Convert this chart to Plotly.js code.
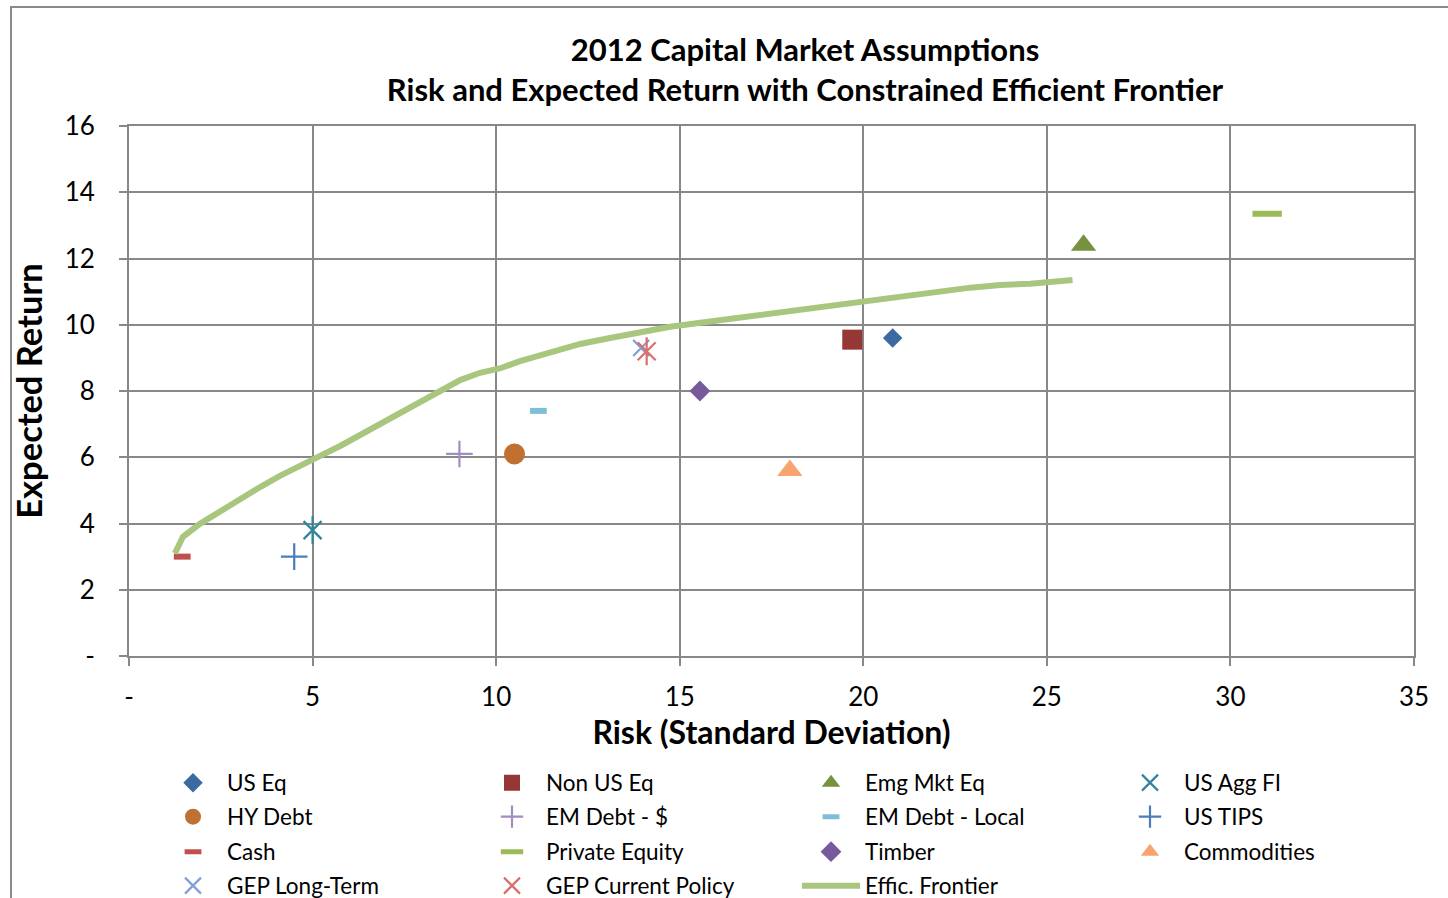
<!DOCTYPE html>
<html>
<head>
<meta charset="utf-8">
<script src="https://cdn.plot.ly/plotly-3.0.1.min.js"></script>
<style>
  html, body { margin: 0; padding: 0; background: #fff; overflow: hidden; }
  #chart { position: absolute; left: 0; top: 0; width: 1448px; height: 898px; }
  #frame { position: absolute; left: 10px; top: 6px; width: 1500px; height: 1000px;
           border-left: 2px solid #8a8a8a; border-top: 2px solid #8a8a8a; pointer-events: none; }
</style>
</head>
<body>
<div id="chart"></div>
<div id="frame"></div>
<script>
// ---- data ----
const assetNames = ['US Eq', 'Non US Eq', 'Emg Mkt Eq', 'US Agg FI',
                    'HY Debt', 'EM Debt - $', 'EM Debt - Local', 'US TIPS',
                    'Cash', 'Private Equity', 'Timber', 'Commodities',
                    'GEP Long-Term', 'GEP Current Policy'];
const assetRisk   = [20.8, 19.7, 26.0, 5.0, 10.5, 9.0, 11.15, 4.5, 1.45, 31.0, 15.55, 18.0, 13.95, 14.1];
const assetReturn = [9.6, 9.55, 12.4, 3.8, 6.1, 6.1, 7.4, 3.0, 3.0, 13.35, 8.0, 5.6, 9.3, 9.2];

const frontierName = 'Effic. Frontier';
const frontierRisk   = [1.25, 1.47, 1.93, 2.4, 3.02, 3.57, 4.11, 4.66, 5.0, 5.75, 6.57, 7.38, 8.2, 9.02,
                        9.56, 10.1, 10.65, 11.47, 12.29, 13.1, 13.92, 14.74, 15.56, 16.38, 17.19, 18.01,
                        18.83, 19.65, 20.46, 21.28, 22.1, 22.92, 23.73, 24.55, 25.7];
const frontierReturn = [3.1, 3.6, 3.99, 4.32, 4.74, 5.1, 5.44, 5.77, 5.93, 6.34, 6.83, 7.34, 7.8, 8.33,
                        8.55, 8.68, 8.9, 9.16, 9.42, 9.6, 9.79, 9.94, 10.06, 10.18, 10.3, 10.42,
                        10.54, 10.66, 10.79, 10.9, 11.03, 11.12, 11.2, 11.24, 11.35];

const xTickVals = [0, 5, 10, 15, 20, 25, 30, 35];
const xTickText = ['-', '5', '10', '15', '20', '25', '30', '35'];
const yTickVals = [0, 2, 4, 6, 8, 10, 12, 14, 16];
const yTickText = ['-', '2', '4', '6', '8', '10', '12', '14', '16'];

// ---- styles ----
const markerStyles = [
  {symbol: 'diamond', color: '#3d69a1', size: 15},
  {symbol: 'square', color: '#953735', size: 20},
  {symbol: 'triangle-up', color: '#76923c', size: 22},
  {symbol: 'x-thin-open', color: '#31849b', size: 18, line: 2.2, star: true},
  {symbol: 'circle', color: '#c07030', size: 21},
  {symbol: 'cross-thin-open', color: '#a28cc2', size: 19, line: 2.2},
  {symbol: 'line-ew-open', color: '#7dbfd8', size: 12, line: 6},
  {symbol: 'cross-thin-open', color: '#4a7ebb', size: 19, line: 2.2},
  {symbol: 'line-ew-open', color: '#c0504d', size: 12, line: 6},
  {symbol: 'line-ew-open', color: '#9bbb59', size: 21, line: 6},
  {symbol: 'diamond', color: '#775a9b', size: 16},
  {symbol: 'triangle-up', color: '#f9a46e', size: 22},
  {symbol: 'x-thin-open', color: '#7f9fd6', size: 16, line: 2.2},
  {symbol: 'x-thin-open', color: '#d96f6c', size: 18, line: 2.2, star: true}
];
const legendIds = ['legend', 'legend2', 'legend3', 'legend4'];

const traces = [];
assetNames.forEach((name, i) => {
  const s = markerStyles[i];
  const marker = {symbol: s.symbol, color: s.color, size: s.size};
  if (s.line) marker.line = {color: s.color, width: s.line};
  traces.push({
    type: 'scatter', mode: 'markers', name: name,
    x: [assetRisk[i]], y: [assetReturn[i]],
    marker: marker, legend: legendIds[Math.floor(i / 4)],
    hoverinfo: 'name+x+y'
  });
  if (s.star) {
    traces.push({
      type: 'scatter', mode: 'markers', name: name, showlegend: false,
      x: [assetRisk[i]], y: [assetReturn[i]],
      marker: {symbol: 'line-ns-open', color: s.color, size: s.size + 2, line: {color: s.color, width: s.line}},
      hoverinfo: 'skip'
    });
  }
});
traces.push({
  type: 'scatter', mode: 'lines', name: frontierName,
  x: frontierRisk, y: frontierReturn,
  line: {color: '#a9c67f', width: 6},
  legend: legendIds[3]
});

const gridCol = '#888888';
const legendBase = {
  orientation: 'h', xref: 'container', yref: 'container',
  xanchor: 'left', yanchor: 'middle',
  entrywidth: 246, entrywidthmode: 'pixels', itemwidth: 58,
  font: {family: 'Lato', size: 22.5, color: '#000'},
  bgcolor: 'rgba(0,0,0,0)', borderwidth: 0, traceorder: 'normal'
};
const rowY = [783, 817, 852, 886];
const H = 898, W = 1448;
const layout = {
  width: W, height: H,
  margin: {l: 129, r: 34, t: 126, b: 242, pad: 0},
  paper_bgcolor: '#fff', plot_bgcolor: '#fff',
  font: {family: 'Lato', color: '#000'},
  showlegend: true,
  title: {
    text: '2012 Capital Market Assumptions<br>Risk and Expected Return with Constrained Efficient Frontier',
    font: {family: 'Lato', size: 31, weight: 'bold', color: '#000'},
    x: 805 / W, xref: 'container', xanchor: 'center',
    y: 1 - 61 / H, yref: 'container', yanchor: 'top'
  },
  xaxis: {
    range: [0, 35], tickvals: xTickVals, ticktext: xTickText,
    showgrid: true, gridcolor: gridCol, gridwidth: 2, zeroline: false,
    showline: true, linecolor: gridCol, linewidth: 2, mirror: true,
    ticks: 'outside', ticklen: 8, tickwidth: 2, tickcolor: gridCol,
    tickfont: {family: 'Lato', size: 26, color: '#000'}, ticklabelstandoff: 9,
    title: {text: 'Risk (Standard Deviation)', font: {family: 'Lato', size: 32, weight: 'bold', color: '#000'}, standoff: 0},
    fixedrange: true
  },
  yaxis: {
    range: [0, 16], tickvals: yTickVals, ticktext: yTickText,
    showgrid: true, gridcolor: gridCol, gridwidth: 2, zeroline: false,
    showline: true, linecolor: gridCol, linewidth: 2, mirror: true,
    ticks: 'outside', ticklen: 8, tickwidth: 2, tickcolor: gridCol,
    tickfont: {family: 'Lato', size: 26, color: '#000'}, ticklabelstandoff: 19,
    title: {text: 'Expected Return', font: {family: 'Lato', size: 34.5, weight: 'bold', color: '#000'}, standoff: 12},
    fixedrange: true
  }
};
legendIds.forEach((id, r) => {
  layout[id] = Object.assign({}, legendBase, {x: 159 / W, y: 1 - rowY[r] / H});
});

Plotly.newPlot('chart', traces, layout, {displayModeBar: false, staticPlot: true});
</script>
</body>
</html>
